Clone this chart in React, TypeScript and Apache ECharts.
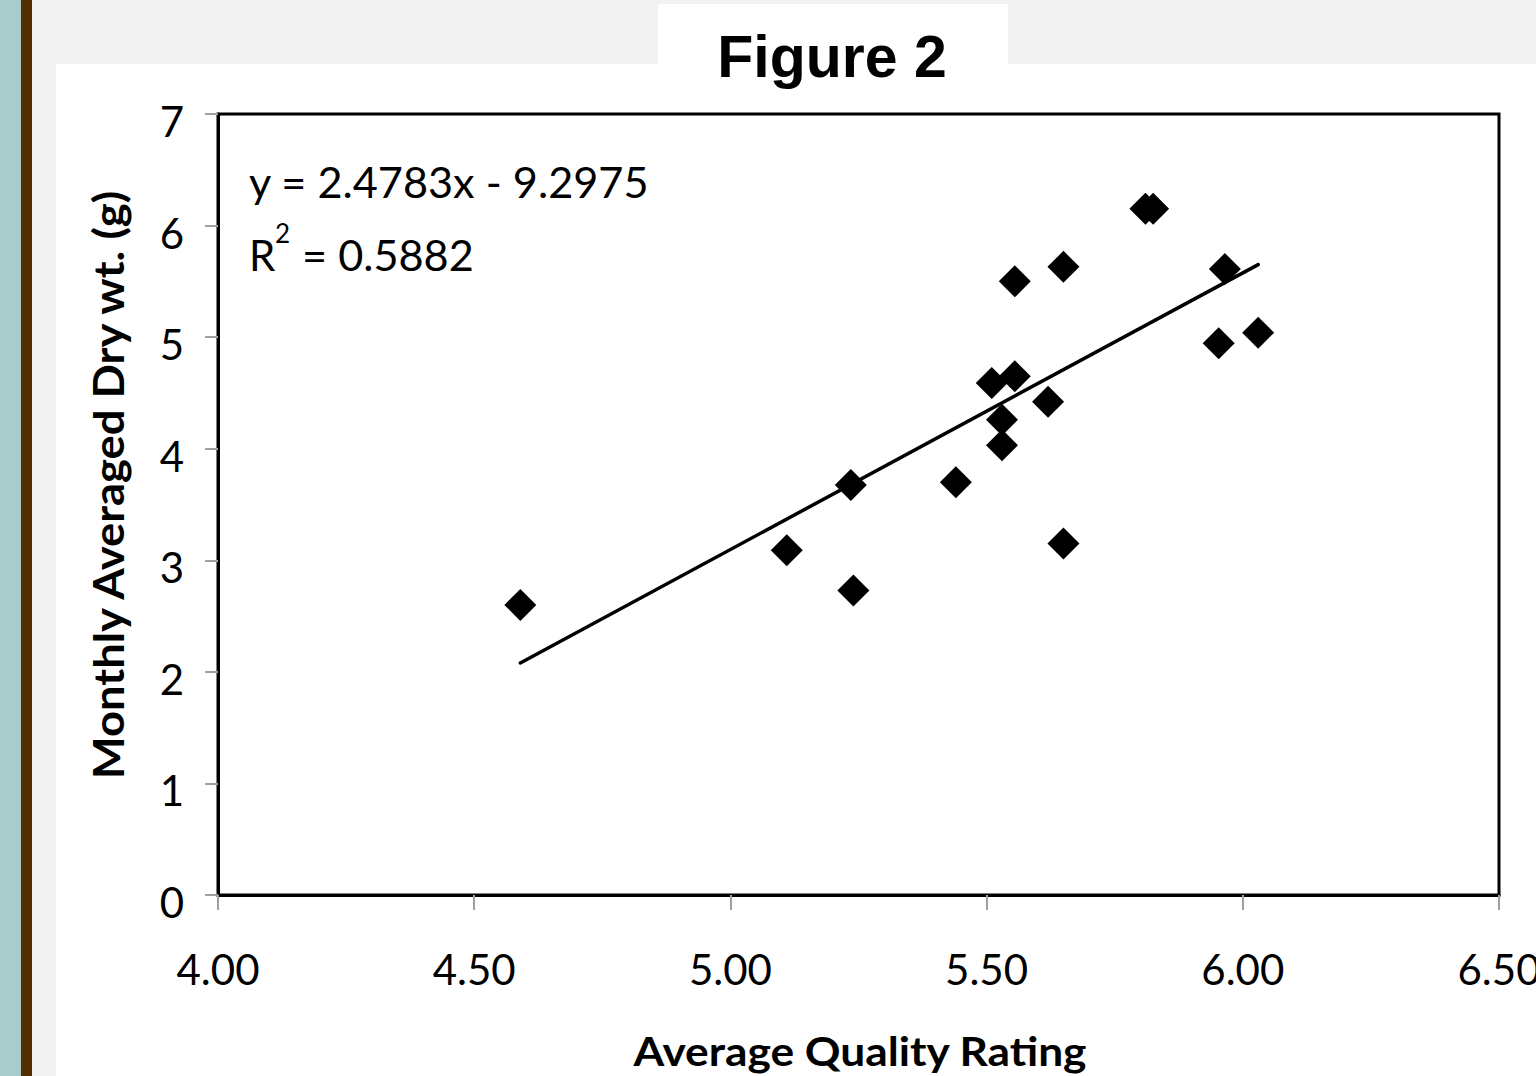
import React, { useEffect, useRef } from "react";
import * as echarts from "echarts";

const xValues = [4.59, 5.11, 5.24, 5.235, 5.44, 5.51, 5.53, 5.53, 5.555, 5.555, 5.62, 5.65, 5.65, 5.81, 5.825, 5.965, 5.953, 6.03];
const yValues = [2.6, 3.09, 2.73, 3.675, 3.7, 4.59, 4.26, 4.03, 4.65, 5.5, 4.42, 5.63, 3.15, 6.15, 6.15, 5.61, 4.945, 5.04];
const trendX = [4.59, 6.03];
const trendY = [2.08, 5.65];

const titleText = "Figure 2";
const xTitle = "Average Quality Rating";
const yTitle = "Monthly Averaged Dry wt. (g)";
const equationText = "y = 2.4783x - 9.2975";
const r2Value = "= 0.5882";

function txt(text: string, x: number, y: number, font: string, align = "center", extra: any = {}) {
  return {
    type: "text",
    x,
    y,
    z: 100,
    ...extra,
    style: {
      text,
      font,
      fill: "#000",
      textAlign: align,
      textVerticalAlign: "middle",
      align,
      verticalAlign: "middle",
    },
  };
}

export default function App() {
  const ref = useRef<HTMLDivElement>(null);
  useEffect(() => {
    const chart = echarts.init(ref.current!, null, { renderer: "svg" });
    chart.setOption({
      animation: false,
      backgroundColor: "#f2f2f2",
      graphic: [
        { type: "rect", z: -10, shape: { x: 0, y: 0, width: 21, height: 1076 }, style: { fill: "#a9cbc9" } },
        { type: "rect", z: -10, shape: { x: 21, y: 0, width: 11, height: 1076 }, style: { fill: "#552e00" } },
        { type: "rect", z: -10, shape: { x: 56, y: 64, width: 1480, height: 1012 }, style: { fill: "#ffffff" } },
        { type: "rect", z: -10, shape: { x: 658, y: 4, width: 350, height: 61 }, style: { fill: "#ffffff" } },
        txt(titleText, 832, 57, 'bold 59px "Liberation Sans"'),
        txt(xTitle, 860, 1050, "bold 41px Lato", "center", { scaleX: 1.08 }),
        txt(yTitle, 108, 485, "bold 42px Lato", "center", { rotation: Math.PI / 2, scaleX: 1.08 }),
        txt(equationText, 249, 182, "42px Lato", "left", { scaleX: 1.03 }),
        txt("R", 249, 255, "42px Lato", "left"),
        txt("2", 275, 233, "26px Lato", "left"),
        txt(r2Value, 302, 255, "42px Lato", "left", { scaleX: 1.03 }),
      ],
      grid: {
        left: 218,
        top: 114,
        right: 37,
        bottom: 181,
        show: true,
        outerBoundsMode: "none",
        containLabel: false,
        backgroundColor: "#ffffff",
        borderColor: "#000",
        borderWidth: 3,
      },
      xAxis: {
        type: "value",
        min: 4,
        max: 6.5,
        interval: 0.5,
        splitLine: { show: false },
        axisLine: { show: true, lineStyle: { color: "#000", width: 3 } },
        axisTick: { show: true, length: 15, lineStyle: { color: "#a0a0a0", width: 2 } },
        axisLabel: {
          margin: 53,
          fontSize: 42,
          fontFamily: "Lato",
          color: "#000",
          formatter: (v: number) => v.toFixed(2),
        },
      },
      yAxis: {
        type: "value",
        min: 0,
        max: 7,
        interval: 1,
        splitLine: { show: false },
        axisLine: { show: true, lineStyle: { color: "#000", width: 3 } },
        axisTick: { show: true, length: 13, lineStyle: { color: "#a0a0a0", width: 2 } },
        axisLabel: {
          margin: 34,
          fontSize: 42,
          fontFamily: "Lato",
          color: "#000",
          verticalAlign: "top",
          lineHeight: 14,
        },
      },
      series: [
        {
          type: "scatter",
          symbol: "diamond",
          symbolSize: 32,
          itemStyle: { color: "#000", opacity: 1 },
          data: xValues.map((x, i) => [x, yValues[i]]),
        },
        {
          type: "line",
          showSymbol: false,
          symbol: "none",
          lineStyle: { color: "#000", width: 3.5, cap: "round" },
          data: trendX.map((x, i) => [x, trendY[i]]),
          z: 3,
        },
      ],
    });
    return () => chart.dispose();
  }, []);
  return <div ref={ref} style={{ position: "absolute", left: 0, top: 0, width: 1536, height: 1076 }} />;
}
